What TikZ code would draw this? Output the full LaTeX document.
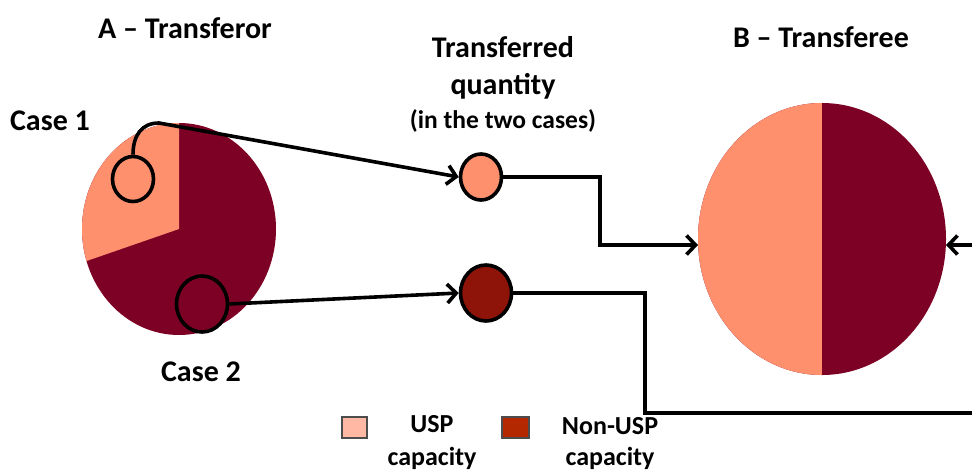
\documentclass[tikz,border=0pt]{standalone}
\usepackage{fontspec}
\setmainfont{Carlito}
\usetikzlibrary{arrows.meta,shapes.geometric}

\definecolor{usp}{HTML}{FF906E}
\definecolor{nonusp}{HTML}{7D0025}
\definecolor{nonuspq}{HTML}{8E1308}
\definecolor{usplight}{HTML}{FFB8A3}
\definecolor{nonusplight}{HTML}{B32800}

\begin{document}
\begin{tikzpicture}[x=1pt,y=-1pt,
    lbl/.style={font=\bfseries\fontsize{30}{37}\selectfont, align=center},
    small/.style={font=\bfseries\fontsize{25.5}{30}\selectfont},
    keytext/.style={font=\bfseries\fontsize{26}{33}\selectfont, align=center},
    bubble/.style={ellipse, draw=black, line width=3.6pt, inner sep=0pt},
    flow/.style={-{Straight Barb[length=9pt,width=19pt,line width=3.6pt]}, line width=3.6pt},
    key/.style={draw=black!70, line width=2pt, inner sep=0pt, minimum height=21pt}]

    \clip (0,0) rectangle (972,472);

    \coordinate (OA) at (179,229);
    \coordinate (OB) at (822,239);

    % pie A (transferor)
    \fill [nonusp] (OA) ellipse [x radius=97, y radius=106];
    \begin{scope}
        \clip (OA) ellipse [x radius=97, y radius=106];
        \fill [usp] (179,0) -- (OA) -- (0,291) -- (0,0) -- cycle;
    \end{scope}

    % pie B (transferee)
    \fill [nonusp] (OB) ellipse [x radius=124, y radius=136];
    \begin{scope}
        \clip (OB) ellipse [x radius=124, y radius=136];
        \fill [usp] (690,90) rectangle (822,390);
    \end{scope}

    \node [bubble, fill=usp, minimum width=41pt, minimum height=45pt] (c1) at (133,179) {};
    \node [bubble, fill=nonusp, minimum width=51pt, minimum height=56pt] (c2) at (202,304) {};
    \node [bubble, fill=usp, minimum width=41pt, minimum height=46pt] (t1) at (481,177) {};
    \node [bubble, fill=nonuspq, minimum width=51pt, minimum height=56pt] (t2) at (486,293) {};

    \node [lbl] (ta) at (185,28) {A -- Transferor};
    \node [lbl] (tb) at (821,37) {B -- Transferee};
    \node [lbl] (case1) at (50,121) {Case 1};
    \node [lbl] (case2) at (201,372) {Case 2};
    \node [lbl] (tq) at (503,68) {Transferred\\quantity};
    \node [small] (tc) at (503,121) {(in the two cases)};

    % legend
    \node [key, fill=usplight, minimum width=25pt] (k1) at (354.5,427.5) {};
    \node [key, fill=nonusplight, minimum width=27pt] (k2) at (515,427) {};
    \node [keytext] (l1) at (432,443) {USP\\capacity};
    \node [keytext, font=\bfseries\fontsize{26}{31}\selectfont] (l2) at (610,444) {Non-USP\\capacity};

    \coordinate (bend) at (159,123);
    \coordinate (Bl) at (698,245);
    \coordinate (Br) at (946,245);

    \draw [flow] (c1.north) .. controls (133,135) and (142,123) .. (bend) -- (t1.west);
    \draw [flow] (c2.east) -- (t2.west);
    \draw [flow] (t1.east) -| (600,245) -- (Bl);
    \draw [flow] (t2.east) -| (645,413) -- (990,413) -- (990,245) -- (Br);

\end{tikzpicture}
\end{document}
